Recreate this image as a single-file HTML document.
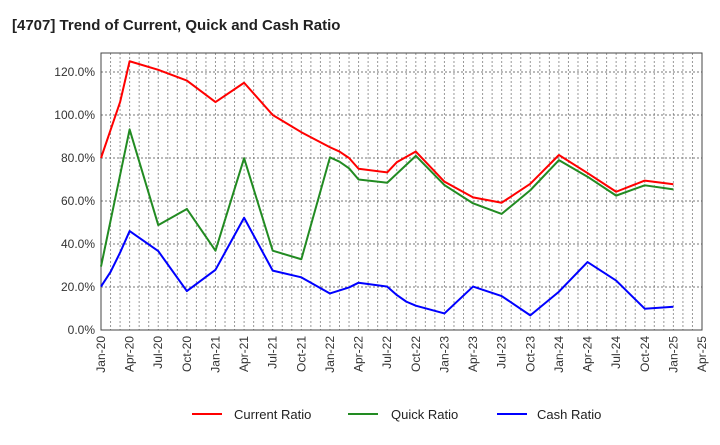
<!DOCTYPE html>
<html><head><meta charset="utf-8"><style>
body{margin:0;background:#fff;}
svg{font-family:"Liberation Sans",Arial,sans-serif;}
</style></head><body>
<svg id="chart" width="720" height="440" viewBox="0 0 720 440">
<rect width="720" height="440" fill="#fff"/>
<text x="12" y="30" font-size="15" font-weight="bold" fill="#222">[4707]  Trend of Current, Quick and Cash Ratio</text>
<g id="grid"></g><g id="axes"></g><g id="series"></g>
<g>
<line x1="192" y1="414" x2="222" y2="414" stroke="#f00" stroke-width="2"/>
<text x="234" y="419" font-size="13" fill="#222">Current Ratio</text>
<line x1="348" y1="414" x2="378" y2="414" stroke="#228b22" stroke-width="2"/>
<text x="391" y="419" font-size="13" fill="#222">Quick Ratio</text>
<line x1="497" y1="414" x2="527" y2="414" stroke="#00f" stroke-width="2"/>
<text x="537" y="419" font-size="13" fill="#222">Cash Ratio</text>
</g>
</svg>
<script>
const xLabels=["Jan-20","Apr-20","Jul-20","Oct-20","Jan-21","Apr-21","Jul-21","Oct-21","Jan-22","Apr-22","Jul-22","Oct-22","Jan-23","Apr-23","Jul-23","Oct-23","Jan-24","Apr-24","Jul-24","Oct-24","Jan-25","Apr-25"];
const yTicks=[0,20,40,60,80,100,120];
const currentMonths=[0,1,2,3,6,9,12,15,18,21,24,25,26,27,30,31,33,36,39,42,45,48,51,54,57,60];
const currentVals=[80,93,106,125,121,116,106,115,100,92,85,83,80,75,73.3,78,83,69,61.7,59.2,68,81.4,73,64.3,69.5,67.8];
const quickMonths=[0,3,6,9,12,15,18,21,24,25,26,27,30,33,36,39,42,45,48,51,54,57,60];
const quickVals=[29.5,93.3,48.8,56.3,36.9,79.9,36.9,32.9,80.3,78.3,75.2,70,68.5,81,67.4,58.9,54,65,79,71.3,62.5,67.3,65.4];
const cashMonths=[0,1,2,3,6,9,12,15,18,21,24,26,27,30,31,32,33,36,39,42,45,48,51,54,57,60];
const cashVals=[20.2,27,36,46,36.7,18.1,28,52.2,27.6,24.5,17,19.8,22,20.2,16.3,13.2,11.3,7.7,20.2,15.8,6.8,17.8,31.6,23,9.9,10.8];

const L=101,R=702,T=53,B=330,NM=63;
const xS=m=>L+m*(R-L)/NM;
const yS=v=>B-v*2.15;
const NS="http://www.w3.org/2000/svg";
function mk(tag,attrs,parent){const e=document.createElementNS(NS,tag);for(const k in attrs)e.setAttribute(k,attrs[k]);parent.appendChild(e);return e;}
const grid=document.getElementById('grid'),axes=document.getElementById('axes'),ser=document.getElementById('series');
for(let m=1;m<NM;m++){const l=mk('line',{x1:xS(m),x2:xS(m),y1:T,y2:B,stroke:'#999','stroke-width':1,'stroke-dasharray':'2,2'},grid);

}
yTicks.forEach(v=>{if(v>0){const l=mk('line',{x1:L,x2:R,y1:yS(v),y2:yS(v),stroke:'#777','stroke-width':1,'stroke-dasharray':'2,2'},grid);

}
const t=mk('text',{x:L-6,y:yS(v)+4,'text-anchor':'end','font-size':12,fill:'#333'},axes);t.textContent=v.toFixed(1)+'%';

});
const fr=mk('rect',{x:L,y:T,width:R-L,height:B-T,fill:'none',stroke:'#444','stroke-width':1},axes);


xLabels.forEach((s,i)=>{const x=xS(i*3);const t=mk('text',{x:0,y:0,transform:`translate(${x+4},${B+6}) rotate(-90)`,'text-anchor':'end','font-size':12,fill:'#333'},axes);t.textContent=s;

});
function line(ms,vs,color,name){const p=mk('polyline',{points:ms.map((m,i)=>xS(m)+','+yS(vs[i])).join(' '),fill:'none',stroke:color,'stroke-width':2,'stroke-linejoin':'round'},ser);

}
line(quickMonths,quickVals,'#228b22','quick-ratio-line');
line(currentMonths,currentVals,'#f00','current-ratio-line');
line(cashMonths,cashVals,'#00f','cash-ratio-line');
</script>
</body></html>
